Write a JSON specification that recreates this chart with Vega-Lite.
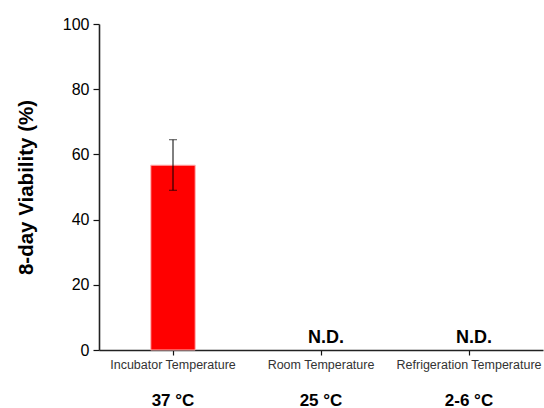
{
  "$schema": "https://vega.github.io/schema/vega-lite/v6.json",
  "autosize": {"type": "none"},
  "width": 444,
  "height": 326,
  "padding": {"left": 99, "top": 24, "right": 1, "bottom": 58},
  "background": "white",
  "config": {"view": {"stroke": null}, "font": "Liberation Sans"},
  "data": {"values": [
    {"category": "Incubator Temperature", "temp": "37 °C", "value": 56.7, "lo": 49.0, "hi": 64.5, "nd": ""},
    {"category": "Room Temperature", "temp": "25 °C", "value": null, "lo": null, "hi": null, "nd": "N.D."},
    {"category": "Refrigeration Temperature", "temp": "2-6 °C", "value": null, "lo": null, "hi": null, "nd": "N.D."}
  ]},
  "resolve": {"axis": {"x": "independent"}},
  "layer": [
    {
      "mark": {"type": "bar", "color": "#ff0000", "stroke": "#ffb3b3", "strokeWidth": 1, "width": {"band": 0.3}},
      "encoding": {
        "x": {"field": "category", "type": "nominal", "sort": null,
              "scale": {"type": "band", "paddingInner": 0, "paddingOuter": 0},
              "axis": {"orient": "bottom", "title": null, "labelAngle": 0, "labelFont": "Liberation Sans", "labelFontSize": 12.5,
                       "labelColor": "#333", "labelPadding": 3, "tickSize": 5, "tickColor": "#111", "tickWidth": 1.2,
                       "domainColor": "#222", "domainWidth": 1.6}},
        "y": {"field": "value", "type": "quantitative", "scale": {"domain": [0, 100], "nice": false},
              "axis": {"title": "8-day Viability (%)", "titleFont": "Liberation Sans", "titleFontSize": 20.5, "titleFontWeight": "bold",
                       "titleColor": "#000", "titlePadding": 26, "grid": false,
                       "values": [0, 10, 20, 30, 40, 50, 60, 70, 80, 90, 100],
                       "labelExpr": "datum.value % 20 == 0 ? datum.label : ''",
                       "labelFont": "Liberation Sans", "labelFontSize": 16, "labelColor": "#000", "labelPadding": 4,
                       "tickSize": {"condition": {"test": "datum.value % 20 == 0", "value": 6}, "value": 4},
                       "tickColor": "#111", "tickWidth": 1.2, "domainColor": "#222", "domainWidth": 1.6}}
      }
    },
    {
      "mark": {"type": "rule", "color": "#000", "strokeWidth": 1},
      "encoding": {
        "x": {"field": "category", "type": "nominal", "sort": null, "axis": null},
        "y": {"field": "lo", "type": "quantitative"},
        "y2": {"field": "hi"}
      }
    },
    {
      "mark": {"type": "tick", "color": "#000", "size": 8, "thickness": 1},
      "encoding": {
        "x": {"field": "category", "type": "nominal", "sort": null, "axis": null},
        "y": {"field": "lo", "type": "quantitative"}
      }
    },
    {
      "mark": {"type": "tick", "color": "#000", "size": 8, "thickness": 1},
      "encoding": {
        "x": {"field": "category", "type": "nominal", "sort": null, "axis": null},
        "y": {"field": "hi", "type": "quantitative"}
      }
    },
    {
      "mark": {"type": "text", "font": "Liberation Sans", "fontSize": 18, "fontWeight": "bold", "color": "#000", "baseline": "alphabetic", "dx": 5, "dy": -7},
      "encoding": {
        "x": {"field": "category", "type": "nominal", "sort": null,
              "axis": {"orient": "bottom", "title": null, "labelAngle": 0, "domain": false, "ticks": false,
                       "labelExpr": "datum.label == 'Incubator Temperature' ? '37 °C' : datum.label == 'Room Temperature' ? '25 °C' : '2-6 °C'",
                       "labelFont": "Liberation Sans", "labelFontSize": 17, "labelFontWeight": "bold", "labelColor": "#000",
                       "labelPadding": 42}},
        "y": {"datum": 0, "type": "quantitative"},
        "text": {"field": "nd"}
      }
    }
  ]
}
